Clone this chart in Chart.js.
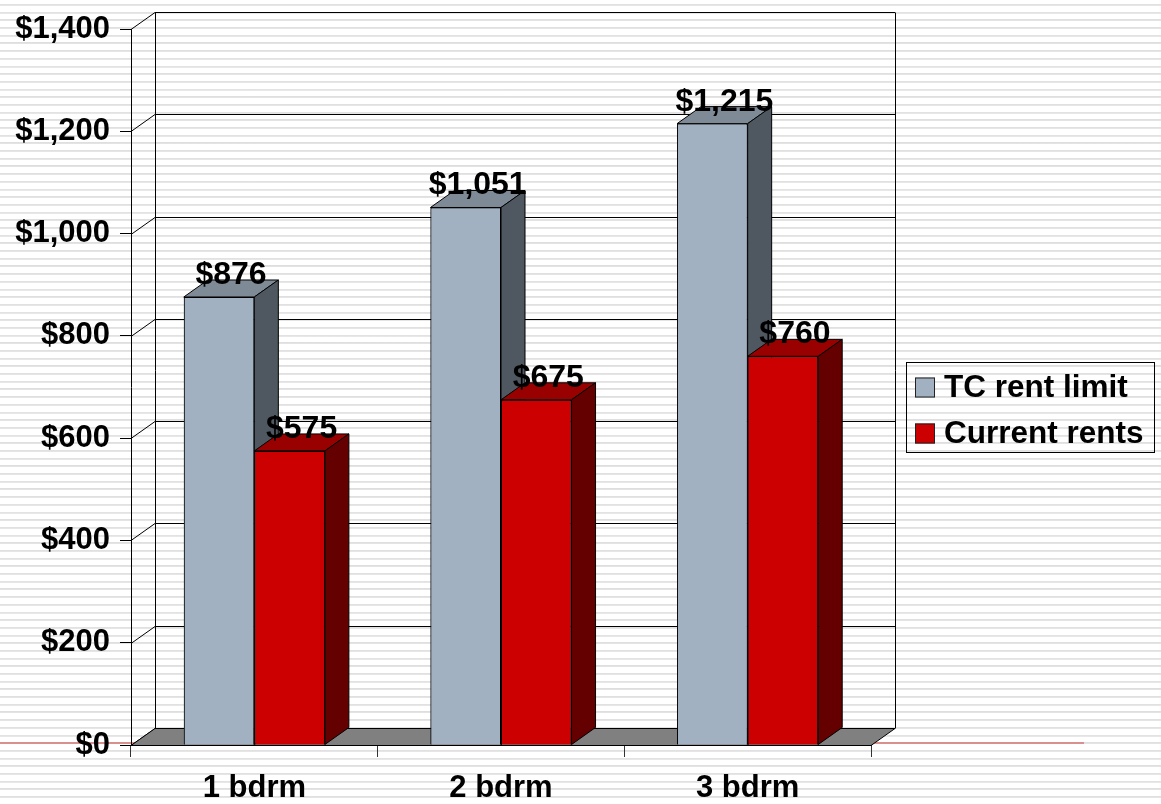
<!DOCTYPE html>
<html>
<head>
<meta charset="utf-8">
<title>TC rent limit vs current rents</title>
<script src="https://cdn.jsdelivr.net/npm/chart.js@4/dist/chart.umd.min.js"></script>
<style>
  html, body {
    margin: 0;
    padding: 0;
    background-color: #fff;
    background-image: repeating-linear-gradient(to bottom,
      #fff 0px, #fff 4px, #dedede 4px, #e8e8e8 6px, #fff 6px, #fff 7.69px);
  }
  #wrap { position: relative; width: 1161px; height: 804px; }
</style>
</head>
<body>
<div id="wrap"><canvas id="rentChart" width="1161" height="804"></canvas></div>
<script>
const categories = ["1 bdrm", "2 bdrm", "3 bdrm"];
const tcRentLimit = [876, 1051, 1215];
const currentRents = [575, 675, 760];
const seriesNames = ["TC rent limit", "Current rents"];
const yMin = 0, yMax = 1400, yStep = 200;

// depth of the 3D box (pixels)
const DX = 24, DY = -17;

const shades = [
  { front: "#a2b1c1", top: "#7e8a96", side: "#4f5761" },
  { front: "#cc0000", top: "#990000", side: "#640000" }
];

const FONT = "'Liberation Sans', Arial, sans-serif";
const money = v => "$" + v.toLocaleString("en-US");

Chart.defaults.font.family = FONT;
Chart.defaults.font.weight = "bold";
Chart.defaults.font.size = 31;
Chart.defaults.color = "#000";

function poly(ctx, pts, fill) {
  ctx.beginPath();
  ctx.moveTo(pts[0][0], pts[0][1]);
  for (let i = 1; i < pts.length; i++) ctx.lineTo(pts[i][0], pts[i][1]);
  ctx.closePath();
  ctx.fillStyle = fill;
  ctx.fill();
  ctx.strokeStyle = "#000";
  ctx.lineWidth = 1;
  ctx.stroke();
}

const box3d = {
  id: "box3d",
  beforeDraw(chart) {
    // thin red rule running across the slide behind the chart
    const ctx = chart.ctx;
    ctx.save();
    ctx.strokeStyle = "#d97474";
    ctx.lineWidth = 1.5;
    ctx.beginPath();
    ctx.moveTo(0, 743);
    ctx.lineTo(1084, 743);
    ctx.stroke();
    ctx.restore();
  },
  beforeDatasetsDraw(chart) {
    const { ctx, chartArea: a, scales: { y } } = chart;
    ctx.save();
    ctx.strokeStyle = "#000";
    ctx.lineWidth = 1;
    // back wall gridlines + side wall diagonals
    for (let v = yMin; v <= yMax; v += yStep) {
      const py = Math.round(y.getPixelForValue(v)) + 0.5;
      ctx.beginPath();
      ctx.moveTo(a.left + DX, py + DY);
      ctx.lineTo(a.right + DX, py + DY);
      ctx.moveTo(a.left, py);
      ctx.lineTo(a.left + DX, py + DY);
      ctx.stroke();
    }
    // back wall edges
    const top = Math.round(y.getPixelForValue(yMax)) + 0.5 + DY;
    const bot = Math.round(y.getPixelForValue(yMin)) + 0.5 + DY;
    ctx.beginPath();
    ctx.moveTo(a.left + DX + 0.5, top);
    ctx.lineTo(a.left + DX + 0.5, bot);
    ctx.moveTo(a.right + DX + 0.5, top);
    ctx.lineTo(a.right + DX + 0.5, bot);
    ctx.stroke();
    // floor
    const fy = Math.round(y.getPixelForValue(0)) + 0.5;
    poly(ctx, [[a.left, fy], [a.right, fy], [a.right + DX, fy + DY], [a.left + DX, fy + DY]], "#808080");
    ctx.restore();
  },
  afterDatasetsDraw(chart) {
    const ctx = chart.ctx;
    ctx.save();
    chart.data.datasets.forEach((ds, i) => {
      const meta = chart.getDatasetMeta(i);
      meta.data.forEach(bar => {
        const { x, y, base, width } = bar.getProps(["x", "y", "base", "width"], true);
        const L = x - width / 2, R = x + width / 2;
        bar.draw(ctx);
        poly(ctx, [[L, y], [R, y], [R + DX, y + DY], [L + DX, y + DY]], shades[i].top);
        poly(ctx, [[R, y], [R + DX, y + DY], [R + DX, base + DY], [R, base]], shades[i].side);
      });
    });
    // value labels above each column
    ctx.fillStyle = "#000";
    ctx.font = "bold 32px " + FONT;
    ctx.textAlign = "center";
    ctx.textBaseline = "alphabetic";
    chart.data.datasets.forEach((ds, i) => {
      chart.getDatasetMeta(i).data.forEach((bar, j) => {
        ctx.fillText(money(ds.data[j]), bar.x + DX / 2, bar.y - 13);
      });
    });
    ctx.restore();
  },
  afterDraw(chart) {
    // legend box
    const ctx = chart.ctx;
    ctx.save();
    ctx.strokeStyle = "#000";
    ctx.lineWidth = 1;
    ctx.strokeRect(906.5, 362.5, 248, 90);
    ctx.font = "bold 31.5px " + FONT;
    ctx.textBaseline = "middle";
    ctx.textAlign = "left";
    chart.data.datasets.forEach((ds, i) => {
      const cy = 387.5 + i * 46;
      ctx.fillStyle = ds.backgroundColor;
      ctx.fillRect(915, cy - 10, 20, 20);
      ctx.strokeStyle = "#222";
      ctx.strokeRect(915.5, cy - 9.5, 19, 19);
      ctx.fillStyle = "#000";
      ctx.fillText(ds.label, 944, cy + 1);
    });
    ctx.restore();
  }
};

new Chart(document.getElementById("rentChart"), {
  type: "bar",
  data: {
    labels: categories,
    datasets: [
      { label: seriesNames[0], data: tcRentLimit, backgroundColor: shades[0].front },
      { label: seriesNames[1], data: currentRents, backgroundColor: shades[1].front }
    ].map(d => Object.assign(d, {
      borderColor: "#000",
      borderWidth: 1,
      borderSkipped: "bottom",
      barPercentage: 1,
      categoryPercentage: 0.572
    }))
  },
  options: {
    responsive: false,
    animation: false,
    events: [],
    layout: { padding: { left: 0, top: 29, right: 290, bottom: 0 } },
    plugins: { legend: { display: false }, tooltip: { enabled: false } },
    scales: {
      x: {
        afterFit: s => { s.height = 59; },
        grid: { offset: true, drawOnChartArea: false, tickLength: 12, color: "#333" },
        border: { color: "#000" },
        ticks: { padding: 13, color: "#000" }
      },
      y: {
        min: yMin,
        max: yMax,
        afterFit: s => { s.width = 131; },
        grid: { drawOnChartArea: false, tickLength: 11, color: "#000" },
        border: { color: "#000" },
        ticks: { stepSize: yStep, padding: 10, color: "#000", callback: v => money(v) }
      }
    }
  },
  plugins: [box3d]
});
</script>
</body>
</html>
